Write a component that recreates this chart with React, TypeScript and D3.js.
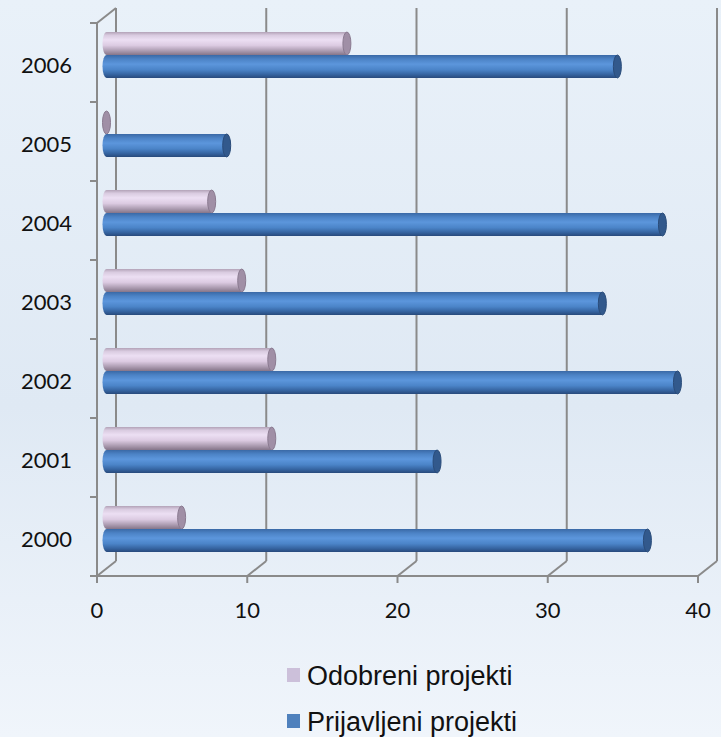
import * as d3 from 'd3';

const YEARS = ['2006', '2005', '2004', '2003', '2002', '2001', '2000'];
const SERIES = ['Odobreni projekti', 'Prijavljeni projekti'];
const ODOBRENI = [16, 0, 7, 9, 11, 11, 5];
const PRIJAVLJENI = [34, 8, 37, 33, 38, 22, 36];
const X_TICKS = [0, 10, 20, 30, 40];

const W = 721;
const H = 737;
// depth of the 3D box (back wall offset)
const DX = 19;
const DY = -15;

const GRADS = {
  pink: [
    ['0%', '#b3a3b8'],
    ['14%', '#d9cbe0'],
    ['34%', '#ecdff3'],
    ['58%', '#dccbe2'],
    ['82%', '#ab9bb0'],
    ['100%', '#857589'],
  ],
  blue: [
    ['0%', '#3a69a6'],
    ['18%', '#4c83c6'],
    ['40%', '#5c96dc'],
    ['64%', '#4b84c8'],
    ['84%', '#3665a2'],
    ['100%', '#284a7c'],
  ],
};

export default function App() {
  const x = d3.scaleLinear().domain([0, 40]).range([97, 698]);
  const y = d3.scaleBand().domain(YEARS).range([23, 576]).padding(0);
  const inner = d3
    .scaleBand()
    .domain(SERIES)
    .range([0, y.bandwidth()])
    .paddingInner(0)
    .paddingOuter(0.72);

  const floorY = 576;
  const topY = 23;
  const gridColor = '#8a8a8a';
  const rx = 4;
  const axisFont = "Lato, Carlito, sans-serif";

  const bars = YEARS.flatMap((yr, i) =>
    SERIES.map((s, si) => ({
      key: `${yr}-${si}`,
      value: si === 0 ? ODOBRENI[i] : PRIJAVLJENI[i],
      y0: (y(yr) ?? 0) + (inner(s) ?? 0) + DY / 2,
      color: si === 0 ? 'pink' : 'blue',
    }))
  );

  return (
    <svg width={W} height={H} style={{ display: 'block' }}>
      <style>{`body{margin:0}`}</style>
      <defs>
        <linearGradient id="bg" x1="0" y1="0" x2="0" y2="1">
          <stop offset="0%" stopColor="#e9f1f9" />
          <stop offset="55%" stopColor="#dfe9f4" />
          <stop offset="100%" stopColor="#f0f5fb" />
        </linearGradient>
        {Object.entries(GRADS).map(([k, stops]) => (
          <linearGradient key={k} id={`g-${k}`} x1="0" y1="0" x2="0" y2="1">
            {stops.map(([o, c]) => (
              <stop key={o} offset={o} stopColor={c} />
            ))}
          </linearGradient>
        ))}
      </defs>

      <rect width={W} height={H} fill="url(#bg)" />

      {/* back wall gridlines */}
      {X_TICKS.map(t => (
        <g key={t}>
          <line x1={x(t) + DX} x2={x(t) + DX} y1={topY + DY} y2={floorY + DY} stroke={gridColor} strokeWidth={2} />
          <line x1={x(t)} x2={x(t) + DX} y1={floorY} y2={floorY + DY} stroke={gridColor} strokeWidth={2} />
          <line x1={x(t)} x2={x(t)} y1={floorY} y2={floorY + 7} stroke={gridColor} strokeWidth={2} />
          <text x={x(t)} y={618} textAnchor="middle" fontSize={22} fontFamily={axisFont} fill="#111">
            {t}
          </text>
        </g>
      ))}

      {/* left wall front edge + top, floor front edge */}
      <line x1={x(0)} x2={x(0)} y1={topY} y2={floorY} stroke={gridColor} strokeWidth={2} />
      <line x1={x(0)} x2={x(0) + DX} y1={topY} y2={topY + DY} stroke={gridColor} strokeWidth={2} />
      <line x1={x(0)} x2={x(40)} y1={floorY} y2={floorY} stroke={gridColor} strokeWidth={2} />

      {/* category ticks and labels */}
      {[...YEARS.map(yr => y(yr) ?? 0), floorY].map((v, i) => (
        <line key={i} x1={x(0) - 7} x2={x(0)} y1={v} y2={v} stroke={gridColor} strokeWidth={2} />
      ))}
      {YEARS.map(yr => (
        <text
          key={yr}
          x={72}
          y={(y(yr) ?? 0) + y.bandwidth() / 2 + 2}
          textAnchor="end"
          dominantBaseline="central"
          fontSize={22}
          fontFamily={axisFont}
          fill="#111"
        >
          {yr}
        </text>
      ))}

      {/* cylinders */}
      {bars.map(b => {
        const h = inner.bandwidth();
        const ry = h / 2;
        const xs = x(0) + DX / 2;
        const xe = x(b.value) + DX / 2;
        const capFill = b.color === 'pink' ? '#a08fa6' : '#32598c';
        const capStroke = b.color === 'pink' ? '#8a7a90' : '#2a4c7a';
        return (
          <g key={b.key}>
            {b.value > 0 && (
              <path
                d={`M${xs},${b.y0} L${xe},${b.y0} L${xe},${b.y0 + h} L${xs},${b.y0 + h} A${rx},${ry} 0 0 1 ${xs},${b.y0} Z`}
                fill={`url(#g-${b.color})`}
              />
            )}
            <ellipse cx={xe} cy={b.y0 + ry} rx={rx} ry={ry} fill={capFill} stroke={capStroke} strokeWidth={1} />
          </g>
        );
      })}

      {/* legend */}
      {SERIES.map((s, i) => (
        <g key={s} transform={`translate(287, ${668 + i * 46})`}>
          <rect width={13} height={14} fill={i === 0 ? '#ccc0da' : '#4f81bd'} />
          <text x={20} y={17} fontSize={27} fontFamily="'Liberation Sans', Arial, sans-serif" fill="#111">
            {s}
          </text>
        </g>
      ))}
    </svg>
  );
}
